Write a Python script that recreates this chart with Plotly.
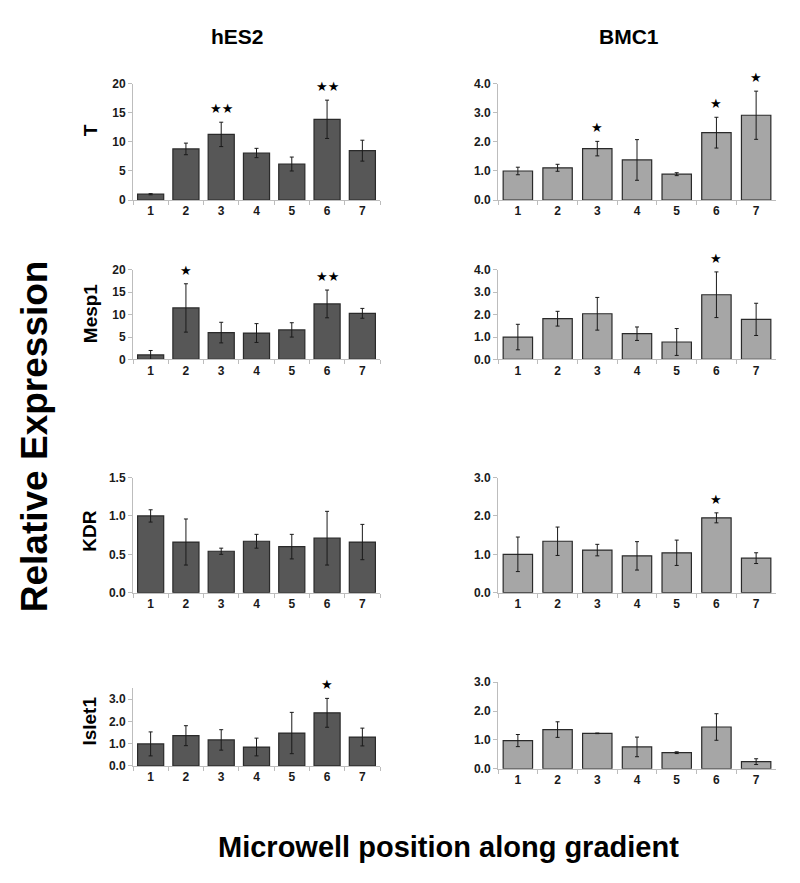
import plotly.graph_objects as go

# ---------------- data ----------------
categories = ["1", "2", "3", "4", "5", "6", "7"]

hes2_T = [1.0, 8.8, 11.3, 8.1, 6.2, 13.9, 8.5]
hes2_T_err = [0.1, 1.0, 2.1, 0.8, 1.2, 3.3, 1.8]
hes2_T_sig = ["", "", "**", "", "", "**", ""]

bmc1_T = [1.0, 1.11, 1.77, 1.38, 0.89, 2.32, 2.92]
bmc1_T_err = [0.13, 0.12, 0.25, 0.7, 0.05, 0.53, 0.83]
bmc1_T_sig = ["", "", "*", "", "", "*", "*"]

hes2_Mesp1 = [1.0, 11.5, 6.0, 5.9, 6.6, 12.4, 10.3]
hes2_Mesp1_err = [1.0, 5.4, 2.3, 2.1, 1.6, 3.1, 1.1]
hes2_Mesp1_sig = ["", "*", "", "", "", "**", ""]

bmc1_Mesp1 = [1.0, 1.82, 2.04, 1.15, 0.78, 2.89, 1.79]
bmc1_Mesp1_err = [0.57, 0.33, 0.73, 0.3, 0.6, 1.02, 0.72]
bmc1_Mesp1_sig = ["", "", "", "", "", "*", ""]

hes2_KDR = [1.0, 0.66, 0.54, 0.67, 0.60, 0.71, 0.66]
hes2_KDR_err = [0.08, 0.3, 0.04, 0.09, 0.16, 0.35, 0.23]
hes2_KDR_sig = ["", "", "", "", "", "", ""]

bmc1_KDR = [1.0, 1.34, 1.11, 0.96, 1.04, 1.95, 0.9]
bmc1_KDR_err = [0.45, 0.37, 0.15, 0.37, 0.33, 0.13, 0.14]
bmc1_KDR_sig = ["", "", "", "", "", "*", ""]

hes2_Islet1 = [0.99, 1.36, 1.17, 0.85, 1.48, 2.39, 1.3]
hes2_Islet1_err = [0.54, 0.45, 0.46, 0.4, 0.93, 0.65, 0.4]
hes2_Islet1_sig = ["", "", "", "", "", "*", ""]

bmc1_Islet1 = [0.98, 1.36, 1.23, 0.76, 0.56, 1.45, 0.25]
bmc1_Islet1_err = [0.21, 0.27, 0.01, 0.34, 0.03, 0.46, 0.1]
bmc1_Islet1_sig = ["", "", "", "", "", "", ""]

genes = ["T", "Mesp1", "KDR", "Islet1"]
column_titles = ["hES2", "BMC1"]

# ---------------- layout geometry ----------------
W, H = 800, 883
FONT = "Liberation Sans Narrow, Arial Narrow, Liberation Sans, Arial, sans-serif"

def fy(py):
    return 1 - py / H

col_x = [(125 / W, 372 / W), (490 / W, 768 / W)]
# (top_px, bottom_px, ymax, dtick, fmt) for each panel
panel_specs = {
    (0, 0): (70, 188, 20, 5, "d"),
    (0, 1): (70, 188, 4, 1, ".1f"),
    (1, 0): (259, 350, 20, 5, "d"),
    (1, 1): (259, 350, 4, 1, ".1f"),
    (2, 0): (470, 587, 1.5, 0.5, ".1f"),
    (2, 1): (470, 587, 3, 1, ".1f"),
    (3, 0): (684, 763, 3.5, 1, ".1f"),
    (3, 1): (678, 766, 3, 1, ".1f"),
}

data = {
    (0, 0): (hes2_T, hes2_T_err, hes2_T_sig),
    (0, 1): (bmc1_T, bmc1_T_err, bmc1_T_sig),
    (1, 0): (hes2_Mesp1, hes2_Mesp1_err, hes2_Mesp1_sig),
    (1, 1): (bmc1_Mesp1, bmc1_Mesp1_err, bmc1_Mesp1_sig),
    (2, 0): (hes2_KDR, hes2_KDR_err, hes2_KDR_sig),
    (2, 1): (bmc1_KDR, bmc1_KDR_err, bmc1_KDR_sig),
    (3, 0): (hes2_Islet1, hes2_Islet1_err, hes2_Islet1_sig),
    (3, 1): (bmc1_Islet1, bmc1_Islet1_err, bmc1_Islet1_sig),
}

fill = ["#575757", "#a6a6a6"]
line_col = "#2a2a2a"
axis_col = "#bdbdbd"

fig = go.Figure()
layout = {}
annotations = []

idx = 0
for r in range(4):
    for c in range(2):
        idx += 1
        sfx = "" if idx == 1 else str(idx)
        top, bot, ymax, dtick, fmt = panel_specs[(r, c)]
        vals, errs, sig = data[(r, c)]
        fig.add_trace(go.Bar(
            x=categories, y=vals,
            error_y=dict(type="data", array=errs, visible=True,
                         color="#1a1a1a", thickness=1, width=2),
            marker=dict(color=fill[c], line=dict(color=line_col, width=1.2)),
            width=0.74,
            xaxis="x" + sfx, yaxis="y" + sfx,
            showlegend=False,
        ))
        layout["xaxis" + sfx] = dict(
            domain=list(col_x[c]), anchor="y" + sfx, type="category",
            showline=True, linecolor=axis_col, linewidth=1,
            ticks="outside", ticklen=4, tickcolor=axis_col, tickson="boundaries",
            showgrid=False, zeroline=False,
            tickfont=dict(family=FONT, size=12, color="#1a1a1a", weight="bold"),
        )
        layout["yaxis" + sfx] = dict(
            domain=[fy(bot), fy(top)], anchor="x" + sfx,
            range=[0, ymax], dtick=dtick, tick0=0, tickformat=fmt,
            showline=True, linecolor=axis_col, linewidth=1,
            ticks="outside", ticklen=4, tickcolor=axis_col,
            showgrid=False, zeroline=False,
            tickfont=dict(family=FONT, size=12, color="#1a1a1a", weight="bold"),
        )
        for i, (v, e, s) in enumerate(zip(vals, errs, sig)):
            if s:
                annotations.append(dict(
                    x=i, y=v + e, xref="x" + sfx, yref="y" + sfx,
                    text=s.replace("*", "★"), showarrow=False,
                    xanchor="center", yanchor="bottom", yshift=4,
                    font=dict(family="DejaVu Sans", size=13, color="black"),
                ))

# row labels
row_centers = [117, 303, 525, 718]
for g, yc in zip(genes, row_centers):
    annotations.append(dict(
        x=82 / W, y=fy(yc), xref="paper", yref="paper", text=g,
        textangle=-90, showarrow=False, xanchor="center", yanchor="middle",
        font=dict(family=FONT, size=19, color="black", weight="bold"),
    ))

# column titles
for t, xc in zip(column_titles, [229, 621]):
    annotations.append(dict(
        x=xc / W, y=fy(22), xref="paper", yref="paper", text=t,
        showarrow=False, xanchor="center", yanchor="middle",
        font=dict(family=FONT, size=21, color="black", weight="bold"),
    ))

annotations.append(dict(
    x=26 / W, y=fy(428), xref="paper", yref="paper", text="Relative Expression",
    textangle=-90, showarrow=False, xanchor="center", yanchor="middle",
    font=dict(family=FONT, size=37, color="black", weight="bold"),
))
annotations.append(dict(
    x=440 / W, y=fy(845), xref="paper", yref="paper",
    text="Microwell position along gradient", showarrow=False,
    xanchor="center", yanchor="middle",
    font=dict(family=FONT, size=29, color="black", weight="bold"),
))

fig.update_layout(
    width=W, height=H,
    margin=dict(l=0, r=0, t=0, b=0),
    paper_bgcolor="white", plot_bgcolor="white",
    annotations=annotations,
    **layout,
)

fig.write_html("out.html")
